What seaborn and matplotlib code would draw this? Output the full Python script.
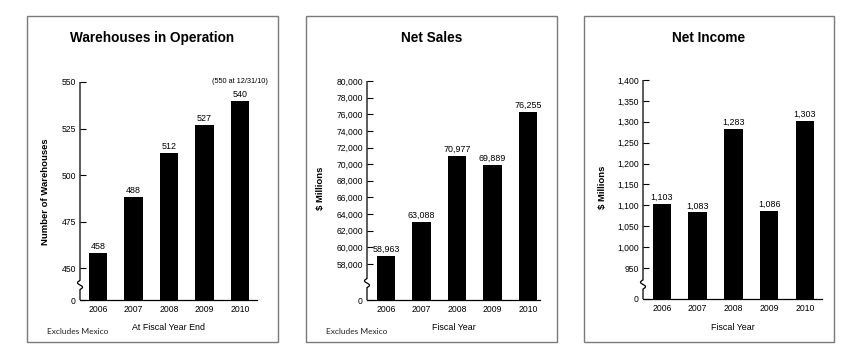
import numpy as np
import matplotlib
matplotlib.use("Agg")
import matplotlib.pyplot as plt
from matplotlib.patches import Rectangle
import seaborn as sns

# ---- data -------------------------------------------------------------
years = ["2006", "2007", "2008", "2009", "2010"]
warehouses = [458, 488, 512, 527, 540]
net_sales = [58963, 63088, 70977, 69889, 76255]
net_income = [1103, 1083, 1283, 1086, 1303]

warehouse_ticks = [450, 475, 500, 525, 550]
sales_ticks = [58000, 60000, 62000, 64000, 66000, 68000, 70000,
               72000, 74000, 76000, 78000, 80000]
income_ticks = [950, 1000, 1050, 1100, 1150, 1200, 1250, 1300, 1350, 1400]

sns.set_theme(style="white")
plt.rcParams["font.family"] = ["Liberation Sans", "DejaVu Sans"]

W, H = 865, 350
fig = plt.figure(figsize=(W / 100, H / 100), dpi=100)


def px_box(l, t, r, b):
    return [l / W, 1 - b / H, (r - l) / W, (b - t) / H]


def broken_scale(lo, gap):
    """Linear above `lo`, squeezed into `gap` units between 0 and `lo`."""
    def fwd(v):
        v = np.asarray(v, dtype=float)
        return np.where(v < lo, v * gap / lo, gap + (v - lo))

    def inv(u):
        u = np.asarray(u, dtype=float)
        return np.where(u < gap, u * lo / gap, u - gap + lo)
    return fwd, inv


def panel(box, ax_px, xlim, values, ticks, gap, title, ylabel, xlabel,
          ylabel_x, ylabel_y, note=None):
    # grey frame around the whole panel
    l, t, r, b = box
    fig.patches.append(Rectangle((l / W, 1 - b / H), (r - l) / W, (b - t) / H,
                                 transform=fig.transFigure, fill=False,
                                 edgecolor="#7a7a7a", linewidth=1.0))
    fig.text((l + r) / 2 / W, 1 - 38 / H, title, ha="center", va="center",
             fontsize=9.8, fontweight="bold", color="black")
    if note:
        fig.text((l + 20) / W, 1 - 332 / H, note, ha="left", va="center",
                 fontsize=6, family=["Lato", "DejaVu Sans"], color="#222")

    al, at, ar, ab = ax_px
    ax = fig.add_axes(px_box(al, at, ar, ab))
    sns.barplot(x=years, y=values, ax=ax, color="black", saturation=1,
                width=0.52, edgecolor="black", linewidth=0)

    lo, hi = ticks[0], ticks[-1]
    fwd, inv = broken_scale(lo, gap)
    ax.set_yscale("function", functions=(fwd, inv))
    ax.set_ylim(0, hi)
    ax.set_xlim(*xlim)

    ax.set_yticks([0] + ticks)
    ax.set_yticklabels(["0"] + [f"{v:,}" for v in ticks])
    ax.tick_params(axis="y", direction="in", length=4, width=0.8,
                   labelsize=6.2, pad=3, colors="black", left=True)
    ax.tick_params(axis="x", length=0, labelsize=6.2, pad=3.5, colors="black")

    for s in ("top", "right", "left"):
        ax.spines[s].set_visible(False)
    ax.spines["bottom"].set_color("black")
    ax.spines["bottom"].set_linewidth(0.9)

    # y axis line with a break mark in the squeezed section
    ax_w = ar - al
    ax_h = ab - at
    total = float(fwd(hi))
    yb = 0.47 * gap / total
    hh = 4.5 / ax_h
    ww = 2.5 / ax_w
    tt = np.linspace(0, 1, 30)
    sx = ww * np.sin(2 * np.pi * tt)
    sy = yb - hh + 2 * hh * tt
    xs = np.concatenate([[0, 0], sx, [0, 0]])
    ys = np.concatenate([[0, yb - hh], sy, [yb + hh, 1]])
    ax.plot(xs, ys, transform=ax.transAxes, color="black", lw=0.9,
            clip_on=False, solid_capstyle="butt")

    ax.bar_label(ax.containers[0], labels=[f"{v:,}" for v in values],
                 padding=1.5, fontsize=6.4, color="black")

    ax.set_ylabel(ylabel, fontsize=6.8, fontweight="bold", color="black")
    ax.yaxis.set_label_coords((ylabel_x - al) / ax_w, (ab - ylabel_y) / ax_h)
    ax.set_xlabel(xlabel, fontsize=6.4, color="black")
    ax.xaxis.set_label_coords(0.5, -(323 - ab) / ax_h)
    ax.set_facecolor("white")
    return ax


ax1 = panel((27, 16, 278, 342), (80, 82, 257, 300), (-0.51, 4.48),
            warehouses, warehouse_ticks, 17.2,
            "Warehouses in Operation", "Number of Warehouses",
            "At Fiscal Year End", 50, 192, note="Excludes Mexico")
ax1.text(4, 550, "(550 at 12/31/10)", ha="center", va="center",
         fontsize=5.3, color="black")

panel((306, 16, 557, 342), (367, 81, 540, 300), (-0.535, 4.34),
      net_sales, sales_ticks, 4330,
      "Net Sales", "$ Millions", "Fiscal Year", 325, 188,
      note="Excludes Mexico")

panel((584, 16, 834, 342), (643, 80, 822, 299), (-0.53, 4.48),
      net_income, income_ticks, 74,
      "Net Income", "$ Millions", "Fiscal Year", 607, 187)

fig.savefig("out.png", dpi=100, facecolor="white")
